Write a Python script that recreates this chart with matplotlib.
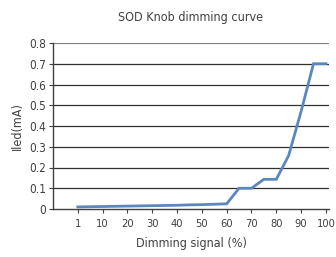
import matplotlib
matplotlib.use("Agg")
import matplotlib.pyplot as plt

# dimming signal categories (%), only every second one is labelled
signal = ["1", "5", "10", "15", "20", "25", "30", "35", "40", "45", "50",
          "55", "60", "65", "70", "75", "80", "85", "90", "95", "100"]
iled = [0.010, 0.011, 0.012, 0.013, 0.014, 0.015, 0.016, 0.017, 0.018, 0.020,
        0.021, 0.023, 0.025, 0.100, 0.100, 0.143, 0.143, 0.258, 0.470, 0.700, 0.700]
y_ticks = [0, 0.1, 0.2, 0.3, 0.4, 0.5, 0.6, 0.7, 0.8]
y_labels = ["0", "0.1", "0.2", "0.3", "0.4", "0.5", "0.6", "0.7", "0.8"]

plt.rcParams['font.family'] = ['DejaVu Sans Condensed', 'Liberation Sans Narrow', 'DejaVu Sans']
plt.rcParams['font.stretch'] = 'condensed'
txt = '#404040'

fig = plt.figure(figsize=(3.36, 2.57), dpi=100)
ax = fig.add_axes([53/336, 1 - 209/257, 276/336, 166/257])

x = list(range(len(signal)))
ax.plot(x, iled, color='#5b87bf', lw=2.0, solid_joinstyle='miter', zorder=3)

ax.set_xlim(-2, 20.25)
ax.set_ylim(0, 0.8)
ax.set_xticks(x[::2])
ax.set_xticklabels(signal[::2])
ax.set_yticks(y_ticks)
ax.set_yticklabels(y_labels)

for y in y_ticks[1:]:
    ax.axhline(y, color='#303030' if y < 0.8 else '#808080', lw=0.9, zorder=1)

for s in ['top', 'right']:
    ax.spines[s].set_visible(False)
for s in ['left', 'bottom']:
    ax.spines[s].set_color('#404040')
    ax.spines[s].set_linewidth(1.0)

ax.tick_params(axis='both', colors='#404040', labelcolor=txt, labelsize=8.5,
               length=3, width=0.8, pad=2)
ax.tick_params(axis='x', labelsize=8, pad=4)

ax.set_xlabel('Dimming signal (%)', fontsize=9, color=txt, labelpad=6)
ax.set_ylabel('Iled(mA)', fontsize=9, color=txt, labelpad=4)
ax.set_title('SOD Knob dimming curve', fontsize=9, color=txt, pad=16)

fig.savefig('out.png', dpi=100)
